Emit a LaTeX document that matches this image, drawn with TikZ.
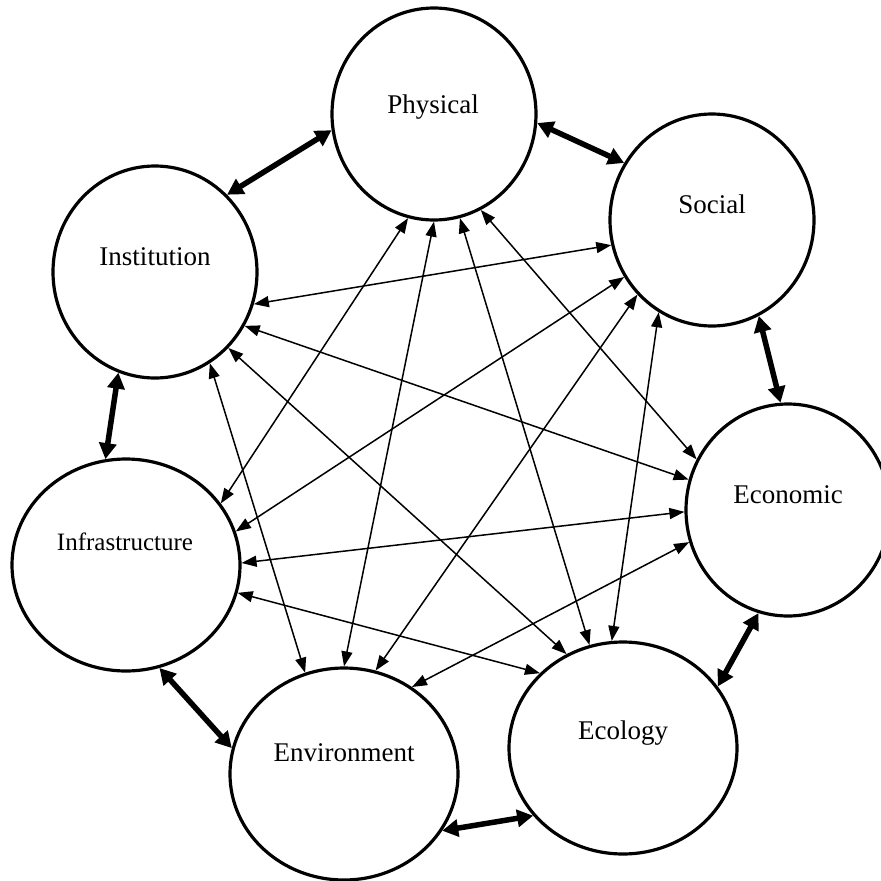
\documentclass[tikz,border=0pt]{standalone}
\usepackage{fontspec}
\setmainfont{Liberation Serif}
\usetikzlibrary{shapes.geometric,arrows.meta}

\begin{document}
\begin{tikzpicture}[x=1pt,y=-1pt,
  sector/.style={draw,ellipse,line width=3.2pt,minimum width=204pt,minimum height=212pt,inner sep=0pt},
  bigsector/.style={sector,minimum width=228pt},
  sectortext/.style={font=\fontsize{27}{30}\selectfont},
  link/.style={line width=1.5pt,{Triangle[length=15pt,width=11pt]}-{Triangle[length=15pt,width=11pt]}},
  ring/.style={line width=5.5pt,{Triangle[length=16pt,width=17pt]}-{Triangle[length=16pt,width=17pt]}}]
\useasboundingbox (0,0) rectangle (881,881);

\node[sector] (phys) at (434,114) {};
\node[sector] (soc) at (712,220) {};
\node[sector] (inst) at (155,272) {};
\node[sector] (econ) at (788,510) {};
\node[bigsector] (infra) at (126,565) {};
\node[bigsector] (env) at (344,774) {};
\node[bigsector] (ecol) at (623,748) {};

\node[sectortext] (phys-t) at (433,107) {Physical};
\node[sectortext] (soc-t) at (712,204) {Social};
\node[sectortext] (inst-t) at (155,257) {Institution};
\node[sectortext] (econ-t) at (788,495) {Economic};
\node[sectortext,font=\fontsize{25}{28}\selectfont] (infra-t) at (125,542) {Infrastructure};
\node[sectortext] (env-t) at (344,753) {Environment};
\node[sectortext] (ecol-t) at (623,733) {Ecology};

% ring of neighbours
\path[ring] (phys.189) edge (inst.47);
\path[ring] (phys.355) edge (soc.147);
\path[ring] (soc.296) edge (econ.94);
\path[ring] (econ.254) edge (ecol.33);
\path[ring] (ecol.217) edge (env.330);
\path[ring] (env.167) edge (infra.288);
\path[ring] (infra.101) edge (inst.250);

% cross links
\path[link] (phys.256) edge (infra.33);
\path[link] (phys.270) edge (env.90);
\path[link] (phys.284) edge (ecol.108);
\path[link] (phys.296) edge (econ.151);
\path[link] (soc.194) edge (inst.342);
\path[link] (soc.213) edge (infra.17);
\path[link] (soc.225) edge (env.73);
\path[link] (soc.240) edge (ecol.96);
\path[link] (inst.329) edge (econ.163);
\path[link] (inst.314) edge (ecol.121);
\path[link] (inst.301) edge (env.111);
\path[link] (econ.181) edge (infra.1);
\path[link] (econ.198) edge (env.52);
\path[link] (infra.346) edge (ecol.138);
\end{tikzpicture}
\end{document}
